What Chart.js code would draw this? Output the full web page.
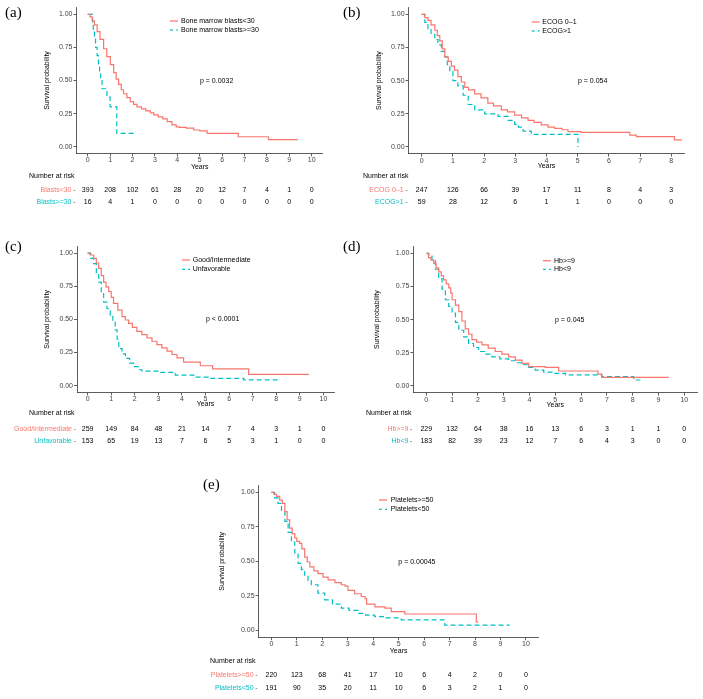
<!DOCTYPE html>
<html>
<head>
<meta charset="utf-8">
<script src="https://cdn.jsdelivr.net/npm/chart.js@4.4.0/dist/chart.umd.min.js"></script>
<style>
  html, body { margin: 0; padding: 0; background: #fff; }
  #wrap { position: relative; width: 703px; height: 699px; }
  #wrap canvas { position: absolute; left: 0; top: 0; }
</style>
</head>
<body>
<div id="wrap"></div>
<script>
// ---- tick labels ----
const survTicks = [0, 0.25, 0.5, 0.75, 1];
const yearTicks10 = [0, 1, 2, 3, 4, 5, 6, 7, 8, 9, 10];
const yearTicks8 = [0, 1, 2, 3, 4, 5, 6, 7, 8];

// ---- (a) bone marrow blasts ----
const blastsLowTime = [0, 0.1, 0.2, 0.3, 0.42, 0.55, 0.71, 0.85, 1.01, 1.16, 1.27, 1.38, 1.5, 1.6, 1.75, 1.9, 2.05, 2.2, 2.4, 2.6, 2.8, 2.95, 3.15, 3.35, 3.55, 3.76, 3.95, 4.1, 4.4, 4.73, 5.0, 5.33, 6.72, 8.07, 9.38];
const blastsLowSurv = [1, 0.98, 0.95, 0.92, 0.87, 0.81, 0.74, 0.68, 0.62, 0.56, 0.51, 0.47, 0.43, 0.40, 0.37, 0.34, 0.32, 0.30, 0.285, 0.27, 0.255, 0.24, 0.225, 0.21, 0.19, 0.165, 0.15, 0.146, 0.14, 0.126, 0.12, 0.10, 0.075, 0.053, 0.053];
const blastsHighTime = [0, 0.22, 0.25, 0.3, 0.35, 0.42, 0.48, 0.53, 0.58, 0.64, 0.86, 1.0, 1.3, 2.18];
const blastsHighSurv = [1, 0.9375, 0.875, 0.8125, 0.75, 0.6875, 0.625, 0.5625, 0.5, 0.4375, 0.375, 0.30, 0.10, 0.10];
const blastsLowRisk = [393, 208, 102, 61, 28, 20, 12, 7, 4, 1, 0];
const blastsHighRisk = [16, 4, 1, 0, 0, 0, 0, 0, 0, 0, 0];

// ---- (b) ECOG ----
const ecogLowTime = [0, 0.1, 0.2, 0.3, 0.42, 0.5, 0.58, 0.66, 0.74, 0.85, 0.95, 1.05, 1.16, 1.27, 1.38, 1.5, 1.7, 1.9, 2.12, 2.3, 2.55, 2.75, 2.98, 3.2, 3.41, 3.6, 3.83, 4.05, 4.26, 4.5, 4.69, 5.1, 6.67, 6.88, 8.1, 8.34];
const ecogLowSurv = [1, 0.975, 0.955, 0.92, 0.88, 0.84, 0.80, 0.74, 0.68, 0.645, 0.61, 0.58, 0.53, 0.49, 0.45, 0.43, 0.40, 0.37, 0.33, 0.31, 0.28, 0.265, 0.24, 0.22, 0.20, 0.185, 0.166, 0.15, 0.14, 0.13, 0.115, 0.11, 0.09, 0.078, 0.053, 0.053];
const ecogHighTime = [0, 0.1, 0.2, 0.3, 0.42, 0.52, 0.63, 0.74, 0.82, 0.9, 1.0, 1.16, 1.33, 1.49, 1.7, 2.02, 2.45, 2.77, 2.98, 3.1, 3.25, 3.51, 5.01];
const ecogHighSurv = [1, 0.94, 0.89, 0.85, 0.81, 0.77, 0.72, 0.68, 0.62, 0.57, 0.50, 0.46, 0.39, 0.32, 0.28, 0.25, 0.23, 0.20, 0.17, 0.15, 0.12, 0.095, 0];
const ecogLowRisk = [247, 126, 66, 39, 17, 11, 8, 4, 3];
const ecogHighRisk = [59, 28, 12, 6, 1, 1, 0, 0, 0];

// ---- (c) cytogenetics ----
const goodTime = [0, 0.1, 0.26, 0.37, 0.47, 0.58, 0.68, 0.78, 0.89, 1.0, 1.1, 1.28, 1.46, 1.6, 1.74, 1.9, 2.09, 2.3, 2.52, 2.73, 2.94, 3.15, 3.37, 3.58, 3.79, 4.07, 4.78, 5.3, 6.83, 9.38];
const goodSurv = [1, 0.985, 0.96, 0.925, 0.885, 0.83, 0.78, 0.745, 0.71, 0.665, 0.62, 0.57, 0.52, 0.495, 0.47, 0.44, 0.41, 0.385, 0.36, 0.335, 0.31, 0.285, 0.26, 0.235, 0.21, 0.178, 0.15, 0.126, 0.085, 0.085];
const unfavTime = [0, 0.13, 0.26, 0.37, 0.47, 0.58, 0.68, 0.82, 0.96, 1.07, 1.17, 1.25, 1.32, 1.46, 1.6, 1.78, 1.95, 2.15, 2.3, 3.08, 3.72, 4.5, 5.2, 6.62, 8.1];
const unfavSurv = [1, 0.96, 0.92, 0.85, 0.78, 0.70, 0.63, 0.58, 0.53, 0.48, 0.42, 0.35, 0.28, 0.24, 0.206, 0.17, 0.143, 0.12, 0.11, 0.10, 0.08, 0.065, 0.055, 0.043, 0.043];
const goodRisk = [259, 149, 84, 48, 21, 14, 7, 4, 3, 1, 0];
const unfavRisk = [153, 65, 19, 13, 7, 6, 5, 3, 1, 0, 0];

// ---- (d) haemoglobin ----
const hbHighTime = [0, 0.08, 0.18, 0.29, 0.38, 0.48, 0.58, 0.67, 0.77, 0.87, 0.95, 1.0, 1.13, 1.26, 1.38, 1.51, 1.64, 1.77, 1.95, 2.16, 2.4, 2.67, 2.93, 3.19, 3.45, 3.71, 3.97, 4.61, 5.13, 6.65, 6.8, 9.4];
const hbHighSurv = [1, 0.967, 0.95, 0.925, 0.89, 0.86, 0.83, 0.80, 0.77, 0.74, 0.70, 0.65, 0.61, 0.56, 0.49, 0.43, 0.39, 0.35, 0.33, 0.31, 0.285, 0.26, 0.24, 0.22, 0.195, 0.17, 0.146, 0.14, 0.113, 0.09, 0.065, 0.065];
const hbLowTime = [0, 0.1, 0.22, 0.35, 0.48, 0.61, 0.74, 0.87, 1.0, 1.13, 1.26, 1.45, 1.64, 1.83, 2.03, 2.3, 2.55, 2.85, 3.19, 3.45, 3.71, 3.97, 4.22, 4.55, 4.87, 5.39, 6.8, 8.04, 8.3];
const hbLowSurv = [1, 0.98, 0.95, 0.88, 0.81, 0.73, 0.65, 0.60, 0.55, 0.48, 0.42, 0.37, 0.32, 0.29, 0.26, 0.24, 0.22, 0.205, 0.19, 0.175, 0.16, 0.14, 0.12, 0.105, 0.095, 0.083, 0.07, 0.045, 0.045];
const hbHighRisk = [229, 132, 64, 38, 16, 13, 6, 3, 1, 1, 0];
const hbLowRisk = [183, 82, 39, 23, 12, 7, 6, 4, 3, 0, 0];

// ---- (e) platelets ----
const pltHighTime = [0, 0.1, 0.2, 0.33, 0.43, 0.53, 0.62, 0.72, 0.82, 0.92, 1.0, 1.11, 1.2, 1.31, 1.41, 1.51, 1.67, 1.83, 2.03, 2.23, 2.5, 2.75, 2.9, 3.01, 3.27, 3.53, 3.68, 3.74, 4.07, 4.46, 4.71, 5.24, 8.05, 8.14];
const pltHighSurv = [1, 0.985, 0.97, 0.944, 0.92, 0.86, 0.80, 0.74, 0.70, 0.67, 0.645, 0.63, 0.59, 0.53, 0.495, 0.46, 0.43, 0.41, 0.385, 0.365, 0.345, 0.33, 0.32, 0.29, 0.265, 0.245, 0.23, 0.19, 0.17, 0.16, 0.135, 0.118, 0.06, 0.06];
const pltLowTime = [0, 0.13, 0.26, 0.4, 0.53, 0.66, 0.79, 0.92, 1.05, 1.18, 1.31, 1.44, 1.57, 1.83, 2.1, 2.4, 2.75, 3.05, 3.4, 3.7, 4.06, 4.5, 5.1, 6.81, 9.36];
const pltLowSurv = [1, 0.96, 0.92, 0.86, 0.79, 0.71, 0.64, 0.56, 0.485, 0.44, 0.40, 0.36, 0.33, 0.27, 0.22, 0.19, 0.16, 0.145, 0.123, 0.11, 0.099, 0.09, 0.075, 0.038, 0.038];
const pltHighRisk = [220, 123, 68, 41, 17, 10, 6, 4, 2, 0, 0];
const pltLowRisk = [191, 90, 35, 20, 11, 10, 6, 3, 2, 1, 0];

// ---- look ----
const RED = '#F8766D';
const CYAN = '#00BFC4';
const INK = '#333333';
const FONT = '"Liberation Sans", Arial, sans-serif';
const Y_W = 30;   // fixed y-axis box width
const X_H = 20;   // fixed x-axis box height
const PAGE_W = 703, PAGE_H = 699;

const panels = [
  {
    tag: '(a)', tagX: 5, tagY: 13,
    area: { l: 76.5, t: 7.7, r: 322.9, b: 153.3 }, xMin: -0.5, xMax: 10.5, xTicks: yearTicks10,
    names: ['Bone marrow blasts<30', 'Bone marrow blasts>=30'], rows: ['Blasts<30', 'Blasts>=30'],
    curves: [[blastsLowTime, blastsLowSurv], [blastsHighTime, blastsHighSurv]],
    risk: [blastsLowRisk, blastsHighRisk],
    pval: 'p = 0.0032', pX: 200, pY: 81,
    legX: 170, legTextX: 181, legY: [21, 30],
    yTitleX: 47, yearsY: 167, headX: 29, headY: 176, rowY: [190, 202]
  },
  {
    tag: '(b)', tagX: 343, tagY: 13,
    area: { l: 408.6, t: 7.7, r: 684.4, b: 153.6 }, xMin: -0.42, xMax: 8.42, xTicks: yearTicks8,
    names: ['ECOG 0\u20131', 'ECOG>1'], rows: ['ECOG 0\u20131', 'ECOG>1'],
    curves: [[ecogLowTime, ecogLowSurv], [ecogHighTime, ecogHighSurv]],
    risk: [ecogLowRisk, ecogHighRisk],
    pval: 'p = 0.054', pX: 578, pY: 81,
    legX: 531.7, legTextX: 542.3, legY: [22, 31],
    yTitleX: 379, yearsY: 166, headX: 363, headY: 176, rowY: [190, 202]
  },
  {
    tag: '(c)', tagX: 5, tagY: 246.7,
    area: { l: 77, t: 246.4, r: 334, b: 392.3 }, xMin: -0.45, xMax: 10.45, xTicks: yearTicks10,
    names: ['Good/Intermediate', 'Unfavorable'], rows: ['Good/Intermediate', 'Unfavorable'],
    curves: [[goodTime, goodSurv], [unfavTime, unfavSurv]],
    risk: [goodRisk, unfavRisk],
    pval: 'p < 0.0001', pX: 206, pY: 319.3,
    legX: 182, legTextX: 192.7, legY: [260, 269.3],
    yTitleX: 47, yearsY: 404, headX: 29, headY: 413, rowY: [429, 441]
  },
  {
    tag: '(d)', tagX: 343, tagY: 246.7,
    area: { l: 413.4, t: 246.7, r: 697.2, b: 392.6 }, xMin: -0.5, xMax: 10.5, xTicks: yearTicks10,
    names: ['Hb>=9', 'Hb<9'], rows: ['Hb>=9', 'Hb<9'],
    curves: [[hbHighTime, hbHighSurv], [hbLowTime, hbLowSurv]],
    risk: [hbHighRisk, hbLowRisk],
    pval: 'p = 0.045', pX: 555, pY: 320,
    legX: 543, legTextX: 554, legY: [260.7, 269.3],
    yTitleX: 377, yearsY: 405, headX: 366, headY: 413, rowY: [429, 441]
  },
  {
    tag: '(e)', tagX: 203, tagY: 485,
    area: { l: 258.6, t: 485.4, r: 538.7, b: 637.2 }, xMin: -0.5, xMax: 10.5, xTicks: yearTicks10,
    names: ['Platelets>=50', 'Platelets<50'], rows: ['Platelets>=50', 'Platelets<50'],
    curves: [[pltHighTime, pltHighSurv], [pltLowTime, pltLowSurv]],
    risk: [pltHighRisk, pltLowRisk],
    pval: 'p = 0.00045', pX: 398.3, pY: 562.3,
    legX: 379, legTextX: 390.7, legY: [500, 509.3],
    yTitleX: 222, yearsY: 650.7, headX: 210, headY: 661, rowY: [675, 688]
  }
];

const colors = [RED, CYAN];
const dashes = [[], [5, 3]];

// text, legend and risk table drawn on top of each panel
function annotate(p) {
  return {
    id: 'annotate',
    afterDraw(chart) {
      const ctx = chart.ctx;
      const xs = chart.scales.x;
      const ys = chart.scales.y;
      const area = chart.chartArea;
      ctx.save();
      ctx.textBaseline = 'middle';

      // panel tag
      ctx.font = '15px "Liberation Serif", "Times New Roman", serif';
      ctx.fillStyle = '#000';
      ctx.textAlign = 'left';
      ctx.fillText(p.tag, p.tagX, p.tagY);

      ctx.font = '7px ' + FONT;
      ctx.fillStyle = '#000';

      // axis titles
      ctx.textAlign = 'center';
      ctx.fillText('Years', (area.left + area.right) / 2, p.yearsY);
      ctx.save();
      ctx.translate(p.yTitleX, (ys.getPixelForValue(0) + ys.getPixelForValue(1)) / 2);
      ctx.rotate(-Math.PI / 2);
      ctx.fillText('Survival probability', 0, 0);
      ctx.restore();

      // p value
      ctx.textAlign = 'left';
      ctx.fillText(p.pval, p.pX, p.pY);

      // legend
      p.names.forEach((name, i) => {
        ctx.strokeStyle = colors[i];
        ctx.lineWidth = 1.2;
        ctx.setLineDash(i ? [3, 3] : []);
        ctx.beginPath();
        ctx.moveTo(p.legX, p.legY[i]);
        ctx.lineTo(p.legX + 8, p.legY[i]);
        ctx.stroke();
        ctx.setLineDash([]);
        ctx.fillStyle = '#000';
        ctx.fillText(name, p.legTextX, p.legY[i]);
      });

      // number at risk table
      ctx.fillStyle = '#000';
      ctx.textAlign = 'left';
      ctx.fillText('Number at risk', p.headX, p.headY);
      p.risk.forEach((counts, r) => {
        const y = p.rowY[r];
        ctx.textAlign = 'right';
        ctx.fillStyle = colors[r];
        ctx.fillText(p.rows[r], area.left - 5, y);
        ctx.fillStyle = '#555';
        ctx.fillText('-', area.left - 1, y);
        ctx.textAlign = 'center';
        ctx.fillStyle = '#000';
        counts.forEach((n, i) => {
          ctx.fillText(String(n), xs.getPixelForValue(p.xTicks[i]), y);
        });
      });
      ctx.restore();
    }
  };
}

const wrap = document.getElementById('wrap');

panels.forEach(p => {
  const canvas = document.createElement('canvas');
  canvas.width = PAGE_W;
  canvas.height = PAGE_H;
  wrap.appendChild(canvas);

  const datasets = p.curves.map(([time, surv], i) => ({
    label: p.names[i],
    data: time.map((t, k) => ({ x: t, y: surv[k] })),
    borderColor: colors[i],
    borderWidth: 1.2,
    borderDash: dashes[i],
    stepped: true,
    pointRadius: 0,
    fill: false
  }));

  new Chart(canvas.getContext('2d'), {
    type: 'line',
    data: { datasets },
    options: {
      responsive: false,
      animation: false,
      layout: {
        padding: {
          left: p.area.l - Y_W,
          top: p.area.t,
          right: PAGE_W - p.area.r,
          bottom: PAGE_H - p.area.b - X_H
        }
      },
      scales: {
        x: {
          type: 'linear',
          min: p.xMin,
          max: p.xMax,
          afterBuildTicks: s => { s.ticks = p.xTicks.map(v => ({ value: v })); },
          afterFit: s => { s.height = X_H; },
          ticks: { font: { family: FONT, size: 7 }, color: '#444', padding: 0, autoSkip: false, maxRotation: 0 },
          grid: { drawOnChartArea: false, tickLength: 3, color: INK, lineWidth: 0.8 },
          border: { color: INK, width: 0.8 }
        },
        y: {
          min: -0.05,
          max: 1.05,
          afterBuildTicks: s => { s.ticks = survTicks.map(v => ({ value: v })); },
          afterFit: s => { s.width = Y_W; },
          ticks: { font: { family: FONT, size: 7 }, color: '#444', padding: 1, callback: v => v.toFixed(2) },
          grid: { drawOnChartArea: false, tickLength: 3, color: INK, lineWidth: 0.8 },
          border: { color: INK, width: 0.8 }
        }
      },
      plugins: { legend: { display: false }, tooltip: { enabled: false } }
    },
    plugins: [annotate(p)]
  });
});
</script>
</body>
</html>
